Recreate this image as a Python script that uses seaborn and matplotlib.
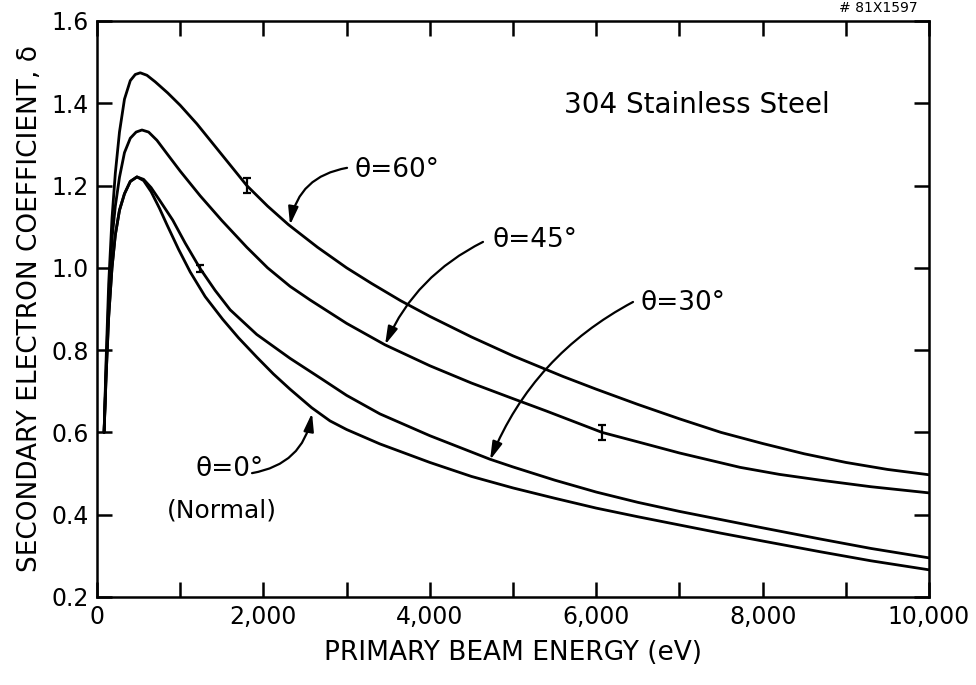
import numpy as np
import pandas as pd
import matplotlib
matplotlib.use("Agg")
import matplotlib.pyplot as plt
import seaborn as sns

# Secondary electron yield of 304 stainless steel vs. primary beam energy
energy_60 = [85, 110, 140, 180, 220, 270, 330, 400, 460, 520, 600, 700, 850, 1000, 1200,
             1400, 1600, 1800, 2050, 2300, 2650, 3000, 3300, 3650, 4000, 4500, 5000,
             5600, 6000, 6500, 7000, 7500, 8000, 8500, 9000, 9500, 10000]
delta_60 = [0.60, 0.78, 0.96, 1.12, 1.23, 1.33, 1.41, 1.455, 1.47, 1.474, 1.468, 1.452,
            1.425, 1.395, 1.35, 1.30, 1.25, 1.20, 1.15, 1.105, 1.05, 1.00, 0.962, 0.92,
            0.882, 0.832, 0.786, 0.736, 0.705, 0.668, 0.633, 0.60, 0.573, 0.548, 0.527,
            0.51, 0.497]

energy_45 = [85, 110, 140, 180, 220, 270, 330, 400, 470, 540, 620, 720, 850, 1000, 1240,
             1500, 1800, 2050, 2320, 2560, 3000, 3460, 4000, 4500, 5000, 5400, 6070,
             6500, 7000, 7730, 8200, 8690, 9300, 10000]
delta_45 = [0.60, 0.76, 0.92, 1.07, 1.15, 1.22, 1.28, 1.315, 1.33, 1.335, 1.33, 1.31,
            1.275, 1.235, 1.175, 1.115, 1.05, 1.00, 0.955, 0.922, 0.865, 0.813, 0.762,
            0.72, 0.682, 0.652, 0.60, 0.577, 0.55, 0.515, 0.498, 0.484, 0.468, 0.453]

energy_30 = [85, 110, 140, 180, 220, 270, 330, 400, 480, 560, 650, 750, 910, 1060, 1240,
             1420, 1600, 1920, 2320, 2700, 3000, 3400, 4000, 4720, 5000, 5500, 6000,
             6500, 7000, 7500, 8000, 8690, 9300, 10000]
delta_30 = [0.60, 0.74, 0.88, 1.00, 1.08, 1.14, 1.18, 1.21, 1.221, 1.215, 1.195, 1.165,
            1.116, 1.06, 0.998, 0.945, 0.898, 0.838, 0.78, 0.73, 0.69, 0.645, 0.592,
            0.535, 0.516, 0.484, 0.455, 0.43, 0.408, 0.388, 0.368, 0.341, 0.318, 0.295]

energy_0 = [85, 110, 140, 180, 220, 270, 330, 400, 480, 560, 650, 750, 840, 980, 1120,
            1300, 1510, 1700, 1920, 2120, 2320, 2580, 2800, 3000, 3400, 4000, 4500,
            5000, 5500, 6000, 6500, 7000, 7500, 8000, 8690, 9300, 10000]
delta_0 = [0.60, 0.74, 0.88, 1.00, 1.08, 1.14, 1.18, 1.21, 1.221, 1.212, 1.185, 1.145,
           1.105, 1.045, 0.99, 0.93, 0.875, 0.83, 0.783, 0.742, 0.705, 0.66, 0.628,
           0.607, 0.572, 0.527, 0.493, 0.465, 0.44, 0.416, 0.395, 0.375, 0.355, 0.336,
           0.31, 0.288, 0.266]

# representative error bars: (energy, delta, half-height)
err_energy = [1800, 1240, 6070]
err_delta = [1.20, 0.998, 0.60]
err_size = [0.018, 0.008, 0.018]

x_ticks = [0, 1000, 2000, 3000, 4000, 5000, 6000, 7000, 8000, 9000, 10000]
x_tick_labels = ["0", "", "2,000", "", "4,000", "", "6,000", "", "8,000", "", "10,000"]
y_ticks = [0.2, 0.4, 0.6, 0.8, 1.0, 1.2, 1.4, 1.6]
y_tick_labels = ["0.2", "0.4", "0.6", "0.8", "1.0", "1.2", "1.4", "1.6"]

frames = []
for name, e, d in [("60", energy_60, delta_60), ("45", energy_45, delta_45),
                   ("30", energy_30, delta_30), ("0", energy_0, delta_0)]:
    frames.append(pd.DataFrame({"energy": e, "delta": d, "theta": name}))
df = pd.concat(frames, ignore_index=True)

sns.set_theme(style="ticks")
plt.rcParams["font.family"] = ["DejaVu Sans"]
plt.rcParams.update({"text.color": "black", "axes.labelcolor": "black",
                     "xtick.color": "black", "ytick.color": "black",
                     "axes.edgecolor": "black"})

fig = plt.figure(figsize=(9.76, 6.85), dpi=100)
ax = fig.add_axes([0.0994, 0.1285, 0.8525, 0.8409])

sns.lineplot(data=df, x="energy", y="delta", hue="theta", units="theta",
             estimator=None, sort=False,
             palette={"60": "black", "45": "black", "30": "black", "0": "black"},
             linewidth=2.0, legend=False, ax=ax)

ax.errorbar(err_energy, err_delta, yerr=err_size, fmt="none", ecolor="black",
            elinewidth=1.6, capsize=3, capthick=1.6)

ax.set_xlim(0, 10000)
ax.set_ylim(0.2, 1.6)
ax.set_xticks(x_ticks)
ax.set_xticklabels(x_tick_labels)
ax.set_yticks(y_ticks)
ax.set_yticklabels(y_tick_labels)
ax.tick_params(direction="in", length=11, width=1.8, top=True, right=True,
               labelsize=17, colors="black", pad=6)
for sp in ax.spines.values():
    sp.set_linewidth(1.8)
    sp.set_color("black")

ax.set_xlabel("PRIMARY BEAM ENERGY (eV)", fontsize=19, labelpad=8)
ax.set_ylabel("SECONDARY ELECTRON COEFFICIENT, δ", fontsize=19, labelpad=6)

ax.text(7212, 1.396, "304 Stainless Steel", fontsize=20, ha="center", va="center")

arrow = dict(arrowstyle="-|>,head_length=0.9,head_width=0.25", color="black",
             lw=1.6, shrinkA=0, shrinkB=0)

# curve labels with curved leader arrows
ax.annotate("", xy=(2320, 1.104), xytext=(3005, 1.243),
            arrowprops=dict(arrow, connectionstyle="arc3,rad=0.35"))
ax.text(3100, 1.238, "θ=60°", fontsize=19, ha="left", va="center")

ax.annotate("", xy=(3462, 0.813), xytext=(4639, 1.063),
            arrowprops=dict(arrow, connectionstyle="arc3,rad=0.18"))
ax.text(4748, 1.068, "θ=45°", fontsize=19, ha="left", va="center")

ax.annotate("", xy=(4724, 0.533), xytext=(6442, 0.917),
            arrowprops=dict(arrow, connectionstyle="arc3,rad=0.18"))
ax.text(6526, 0.915, "θ=30°", fontsize=19, ha="left", va="center")

ax.annotate("", xy=(2584, 0.647), xytext=(1863, 0.501),
            arrowprops=dict(arrow, connectionstyle="arc3,rad=0.35"))
ax.text(1178, 0.511, "θ=0°", fontsize=19, ha="left", va="center")
ax.text(1502, 0.409, "(Normal)", fontsize=18, ha="center", va="center")

fig.text(0.86, 0.998, "# 81X1597", fontsize=10, ha="left", va="top")

fig.savefig("out.png", dpi=100)
